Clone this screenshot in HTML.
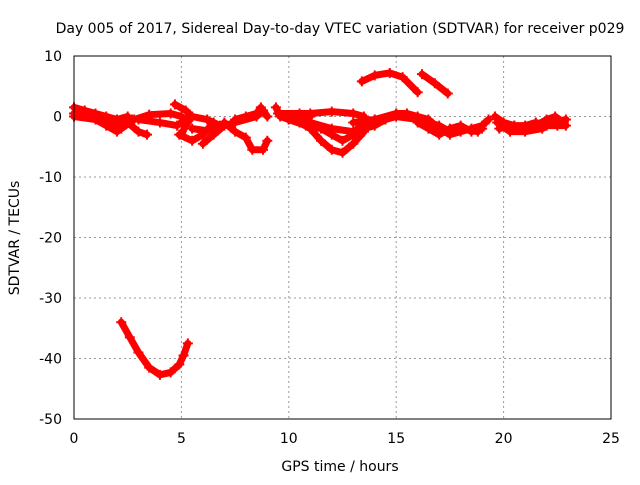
<!DOCTYPE html>
<html><head><meta charset="utf-8"><style>
body{margin:0;background:#fff}
text{font-family:"DejaVu Sans","Liberation Sans",sans-serif;font-size:14px;fill:#000}
</style></head><body>
<svg id="chart" width="640" height="480" xmlns="http://www.w3.org/2000/svg">
<text x="340" y="33" text-anchor="middle">Day 005 of 2017, Sidereal Day-to-day VTEC variation (SDTVAR) for receiver p029</text>
<text x="340" y="471" text-anchor="middle">GPS time / hours</text>
<text transform="translate(19,238) rotate(-90)" text-anchor="middle">SDTVAR / TECUs</text>
<g id="grid"></g><g id="ticks"></g><g id="series"></g>
<rect x="74" y="56" width="537" height="363" fill="none" stroke="#000" stroke-width="1"/>
</svg>
<script>
const xTicks=[0,5,10,15,20,25];
const yTicks=[10,0,-10,-20,-30,-40,-50];
const tracks=[
[[0,1.5],[0.5,1],[1,0.5],[1.5,0],[2,-0.5],[2.5,0]],
[[0,0.5],[0.7,0.3],[1.2,-0.3],[1.8,-1],[2.3,-1.5],[2.7,-0.5]],
[[0,0],[1,-0.5],[1.5,-1.5],[2,-2.5],[2.2,-2],[2.8,-0.5],[3.5,0.3],[4.5,0.5],[5,0]],
[[2.5,-1],[3,-2.5],[3.4,-3]],
[[3,-0.5],[4,-1],[4.8,-1.5],[5.2,-0.5]],
[[4.7,2],[5.2,1],[5.5,0],[5.2,-1.5],[5,-3]],
[[4.9,-3],[5.5,-4],[6,-3],[6.5,-1]],
[[5.5,0],[6.2,-0.5],[6.8,-1.5],[6.5,-2.5],[5.5,-2]],
[[6,-4.5],[6.5,-3],[7,-1.5],[7.5,-1],[8.5,0],[8.8,1],[9,0]],
[[7,-1],[7.5,-2.5],[8,-3.5],[8.3,-5.5],[8.8,-5.5],[9,-4]],
[[7.5,-0.5],[8,0],[8.5,0.5],[8.7,1.5]],
[[9.4,1.5],[9.6,0],[10,-0.5],[10.5,-0.5],[11,0]],
[[9.5,0.5],[10.5,0.5],[11,0.5],[12,0.8],[13,0.5],[13.5,0]],
[[10,-0.5],[10.8,-1.5],[11.5,-2],[12,-3],[12.5,-4],[13,-3],[13.5,-1.5],[14,-0.5]],
[[10.5,-1],[11,-2],[11.5,-4],[12,-5.5],[12.5,-6],[13,-4.5],[13.5,-2.5]],
[[11,-1],[12,-2],[13,-2.5],[14,-1.5],[14.5,-0.5],[15,0.5]],
[[13.4,5.8],[14,6.8],[14.7,7.2],[15.3,6.5],[16,4]],
[[16.2,7],[16.8,5.5],[17.4,3.8]],
[[13,-1],[14,-0.5],[15,0.5],[15.5,0.5],[16,0],[16.5,-0.5],[17,-2],[17.5,-3],[18,-2.5],[18.5,-2],[19,-1.5],[19.3,-0.5]],
[[13.2,-2],[14,-1],[14.5,-0.5],[15,0],[16,-0.5],[16.5,-1],[17,-1.5],[17.5,-2.5],[18,-2],[18.8,-2.5]],
[[16,-1],[16.5,-2],[17,-3],[17.5,-2],[18,-1.5],[18.5,-2.5],[19,-2]],
[[19.6,0],[20,-1],[20.5,-1.5],[21,-2],[21.5,-1.5],[22,-0.5],[22.4,0],[22.8,-1]],
[[19.8,-2],[20.5,-1.5],[21,-1.5],[21.5,-1],[22,-1.5],[22.5,-1.5],[22.9,-1.5]],
[[19.7,-1],[20.3,-2.5],[21,-2.5],[21.8,-2],[22.3,-1],[22.9,-0.5]],
[[2.2,-34],[2.6,-36.5],[3,-39],[3.5,-41.5],[4,-42.7],[4.5,-42.3],[4.9,-41],[5.1,-39.5],[5.3,-37.5]]
];
const NS='http://www.w3.org/2000/svg';
const X=v=>74+v*537/25, Y=v=>56+(10-v)*363/60;
const grid=document.getElementById('grid'),ticks=document.getElementById('ticks'),ser=document.getElementById('series');
function mk(tag,attrs,parent){const e=document.createElementNS(NS,tag);for(const k in attrs)e.setAttribute(k,attrs[k]);parent.appendChild(e);return e;}
xTicks.forEach(t=>{
 if(t>0&&t<25){const l=mk('line',{x1:X(t),x2:X(t),y1:56,y2:419,stroke:'#999','stroke-dasharray':'2,3'},grid);
 
 }
 const tx=mk('text',{x:X(t),y:443,'text-anchor':'middle'},ticks);tx.textContent=t;
 
 
});
yTicks.forEach(t=>{
 if(t<10&&t>-50){const l=mk('line',{x1:74,x2:611,y1:Y(t),y2:Y(t),stroke:'#999','stroke-dasharray':'2,3'},grid);
 
 }
 const tx=mk('text',{x:62,y:Y(t)+5,'text-anchor':'end'},ticks);tx.textContent=t;
 
 
});
tracks.forEach((tr,i)=>{
 const p=mk('polyline',{points:tr.map(d=>X(d[0])+','+Y(d[1])).join(' '),fill:'none',stroke:'#f00','stroke-width':7,'stroke-linejoin':'round','stroke-linecap':'round'},ser);
 
 
 tr.forEach(d=>{const m=mk('path',{d:`M${X(d[0])-5},${Y(d[1])}h10M${X(d[0])},${Y(d[1])-5}v10`,stroke:'#f00','stroke-width':2},ser);
 
 });
});
</script>
</body></html>
